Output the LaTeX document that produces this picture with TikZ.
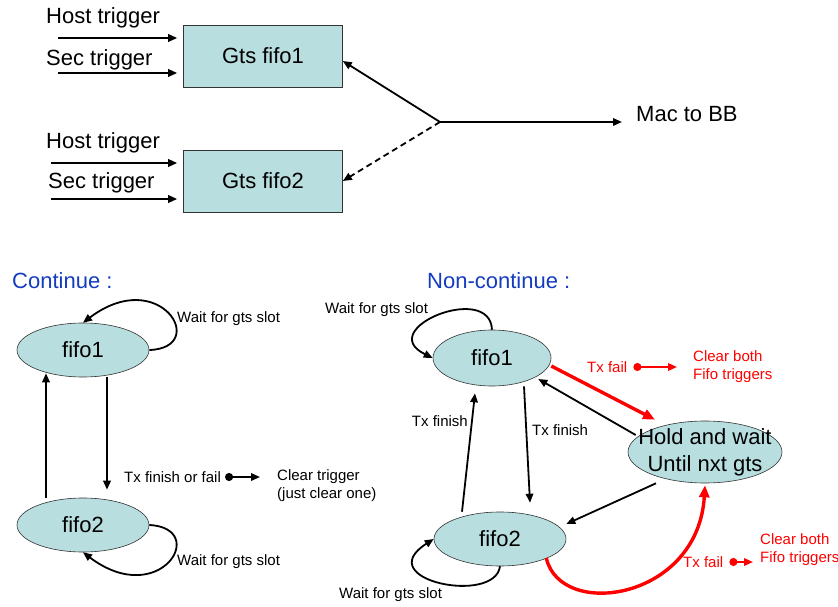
\documentclass[tikz,border=0pt]{standalone}
\usepackage{fontspec}
\setmainfont{Liberation Sans}
\usepackage{tikz}
\usetikzlibrary{arrows.meta, positioning, shapes, calc}

\definecolor{statefill}{RGB}{184,222,224}
\definecolor{headblue}{RGB}{20,60,190}
\definecolor{failred}{RGB}{255,0,0}

\tikzset{
  big/.style={font=\fontsize{22}{27}\selectfont, inner sep=0pt},
  sm/.style={font=\fontsize{15}{18}\selectfont, inner sep=0pt},
  fifobox/.style={draw=black!80, line width=0.6pt, fill=statefill, minimum width=159pt, minimum height=62pt, big},
  state/.style={ellipse, draw=black!80, line width=0.6pt, fill=statefill, inner sep=0pt, big},
  arr/.style={line width=1.8pt, -{Triangle[length=9pt,width=7.5pt]}},
  redarr/.style={line width=3.4pt, draw=failred, -{Triangle[length=12pt,width=10pt]}},
  dotarr/.style={line width=1.8pt, {Circle[length=8pt]}-{Triangle[length=9pt,width=7.5pt]}}
}

\begin{document}
\begin{tikzpicture}[x=1pt, y=-1pt]
  \useasboundingbox (0,0) rectangle (838,607);

  % top: the two gts fifos
  \node[fifobox] (g1) at (263,56) {Gts fifo1};
  \node[fifobox] (g2) at (263,181) {Gts fifo2};
  \node[big, anchor=west] (h1) at (46,18) {Host trigger};
  \node[big, anchor=west] (s1) at (46,60) {Sec trigger};
  \node[big, anchor=west] (h2) at (46,143) {Host trigger};
  \node[big, anchor=west] (s2) at (48,183) {Sec trigger};
  \coordinate (h1in) at (58,38);
  \coordinate (s1in) at (58,73);
  \coordinate (h2in) at (51,163);
  \coordinate (s2in) at (51,199);
  \draw[arr, shorten >=6pt] (h1in) -- (h1in -| g1.west);
  \draw[arr, shorten >=6pt] (s1in) -- (s1in -| g1.west);
  \draw[arr, shorten >=6pt] (h2in) -- (h2in -| g2.west);
  \draw[arr, shorten >=6pt] (s2in) -- (s2in -| g2.west);

  \coordinate (jn) at (440,122);
  \node[big, anchor=west] (mac) at (636,114) {Mac to BB};
  \draw[arr] (jn) -- ([yshift=-5pt]g1.east);
  \draw[arr, dash pattern=on 6pt off 4pt] (jn) -- (g2.east);
  \draw[arr, shorten >=14pt] (jn) -- (jn -| mac.west);

  % continue mode
  \node[big, anchor=west, text=headblue] (cont) at (12,281) {Continue :};
  \node[state, minimum width=132pt, minimum height=54pt] (a1) at (83,350) {fifo1};
  \node[state, minimum width=132pt, minimum height=54pt] (a2) at (83,525) {fifo2};
  \draw[arr] (a1.east) .. controls +(61,-2) and +(77,-58) .. (a1.north);
  \draw[arr] (a2.east) .. controls +(61,3) and +(77,58) .. (a2.south);
  \node[sm, anchor=west] (wa1) at (177,319) {Wait for gts slot};
  \node[sm, anchor=west] (wa2) at (177,562) {Wait for gts slot};
  \draw[arr] ([xshift=24pt]a1.south) -- ([xshift=24pt,yshift=8pt]a2.north);
  \draw[arr] ([xshift=-37pt]a2.north) -- ([xshift=-37pt,yshift=4pt]a1.south);
  \node[sm, anchor=west] (tf) at (124,477) {Tx finish or fail};
  \node[sm, anchor=west, align=left] (ct) at (277,485.5) {Clear trigger\\(just clear one)};
  \draw[dotarr, shorten <=4pt, shorten >=17pt] (tf.east) -- (ct.west |- tf.east);

  % non-continue mode
  \node[big, anchor=west, text=headblue] (ncont) at (427,281) {Non-continue :};
  \node[state, minimum width=118pt, minimum height=56pt] (b1) at (492,358) {fifo1};
  \node[state, minimum width=132pt, minimum height=54pt] (b2) at (500,539) {fifo2};
  \node[state, minimum width=154pt, minimum height=62pt] (hd) at (705,452) {};
  \node[big, align=center] (hdt) at (hd) {Hold and wait\\Until nxt gts};

  \draw[arr] (b1.north) .. controls +(-2,-48) and +(-59,-29) .. (b1.west);
  \draw[arr] (b2.south) .. controls +(-5,39) and +(-64,41) .. (b2.west);
  \node[sm, anchor=west] (wb1) at (325,310) {Wait for gts slot};
  \node[sm, anchor=west] (wb2) at (339,595) {Wait for gts slot};

  \draw[arr] ([xshift=-38pt]b2.north) -- ([xshift=-17pt,yshift=-7pt]b1.south);
  \draw[arr] ([xshift=32pt]b1.south) -- ([xshift=30pt,yshift=9pt]b2.north);
  \node[sm, anchor=east] (tx1) at (468,421) {Tx finish};
  \node[sm, anchor=west] (tx2) at (532,430) {Tx finish};
  \draw[arr] ([xshift=8pt,yshift=17pt]hd.west) -- ([xshift=-13pt,yshift=-21pt]b1.east);
  \draw[arr] ([xshift=-49pt]hd.south) -- ([yshift=15pt]b2.east);

  % failures
  \draw[redarr] ([yshift=-8pt]b1.east) -- ([xshift=-50pt,yshift=1pt]hd.north);
  \draw[redarr] ([xshift=-20pt,yshift=-19pt]b2.east) .. controls +(14,62) and +(-7,115) .. ([yshift=-2pt]hd.south);
  \node[sm, anchor=west, text=failred] (rf1) at (587,367) {Tx fail};
  \node[sm, anchor=west, align=left, text=failred] (rc1) at (693,367) {Clear both\\Fifo triggers};
  \draw[dotarr, draw=failred, fill=failred, shorten <=6pt, shorten >=16pt] (rf1.east) -- (rc1.west |- rf1.east);
  \node[sm, anchor=west, text=failred] (rf2) at (683,562) {Tx fail};
  \node[sm, anchor=west, align=left, text=failred] (rc2) at (760,550) {Clear both\\Fifo triggers};
  \draw[dotarr, draw=failred, fill=failred, shorten <=6pt, shorten >=7pt] (rf2.east) -- (rc2.west |- rf2.east);
\end{tikzpicture}
\end{document}
